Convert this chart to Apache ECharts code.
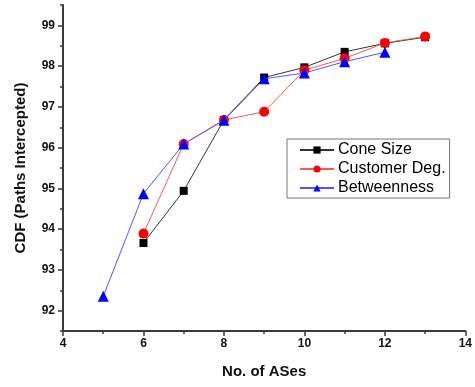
<!DOCTYPE html>
<html>
<head>
<meta charset="utf-8">
<script src="https://cdn.jsdelivr.net/npm/echarts@6/dist/echarts.min.js"></script>
<style>
  html, body { margin: 0; padding: 0; background: #fff; }
  #chart { width: 475px; height: 387px; }
</style>
</head>
<body>
<div id="chart"></div>
<script>
// Number of ASes on the x axis
const asCounts = [5, 6, 7, 8, 9, 10, 11, 12, 13];

// CDF of intercepted paths (%) for each ranking strategy
const coneSize     = [null, 93.66, 94.94, 96.68, 97.72, 97.97, 98.35, 98.56, 98.71];
const customerDeg  = [null, 93.89, 96.09, 96.68, 96.88, 97.90, 98.19, 98.57, 98.73];
const betweenness  = [92.35, 94.87, 96.09, 96.67, 97.69, 97.83, 98.11, 98.34, null];

const seriesNames = ['Cone Size', 'Customer Deg.', 'Betweenness'];

// Tick positions for the value axis
const yMajorTicks = [92, 93, 94, 95, 96, 97, 98, 99];
const yMinorTicks = [91.5, 92.5, 93.5, 94.5, 95.5, 96.5, 97.5, 98.5, 99.5];

const xAxisTitle = 'No. of ASes';
const yAxisTitle = 'CDF (Paths Intercepted)';

const font = 'Liberation Sans, Arial, sans-serif';
const axisColor = '#3a3a3a';

function pairs(vals) {
  return asCounts.map((x, i) => (vals[i] == null ? null : [x, vals[i]])).filter(p => p);
}

const chart = echarts.init(document.getElementById('chart'), null, { renderer: 'canvas' });

chart.setOption({
  animation: false,
  backgroundColor: '#ffffff',
  grid: { left: 63, right: 9, top: 5, bottom: 56 },
  legend: {
    orient: 'vertical',
    left: 287,
    top: 139,
    itemWidth: 34,
    itemHeight: 9,
    itemGap: 3,
    padding: [3, 4, 2, 12],
    borderColor: '#777',
    borderWidth: 1,
    textStyle: { fontFamily: font, fontSize: 16, color: '#000', padding: [0, 0, 0, -1] },
    data: seriesNames
  },
  xAxis: {
    type: 'value',
    min: 4,
    max: 14,
    interval: 2,
    name: xAxisTitle,
    nameLocation: 'middle',
    nameGap: 33,
    nameTextStyle: { fontFamily: font, fontSize: 15, fontWeight: 'bold', color: '#111' },
    axisLine: { show: true, lineStyle: { color: axisColor, width: 2 } },
    axisTick: { show: true, length: 5, lineStyle: { color: axisColor, width: 1.5 } },
    minorTick: { show: true, splitNumber: 2, length: 3, lineStyle: { color: axisColor, width: 1.5 } },
    axisLabel: { fontFamily: font, fontSize: 12, fontWeight: 'bold', color: '#111', margin: 7 },
    splitLine: { show: false }
  },
  yAxis: [
    {
      type: 'value',
      min: 91.5,
      max: 99.5,
      interval: 0.5,
      name: yAxisTitle,
      nameLocation: 'middle',
      nameGap: 35,
      nameRotate: 90,
      nameTextStyle: { fontFamily: font, fontSize: 15, fontWeight: 'bold', color: '#111' },
      axisLine: { show: true, lineStyle: { color: axisColor, width: 2 } },
      axisTick: { show: true, length: 5, customValues: yMajorTicks, lineStyle: { color: axisColor, width: 1.5 } },
      axisLabel: { fontFamily: font, fontSize: 12, fontWeight: 'bold', color: '#111', margin: 8, customValues: yMajorTicks },
      splitLine: { show: false }
    },
    {
      type: 'value',
      min: 91.5,
      max: 99.5,
      interval: 0.5,
      position: 'left',
      axisLine: { show: false },
      axisTick: { show: true, length: 3, customValues: yMinorTicks, lineStyle: { color: axisColor, width: 1.5 } },
      axisLabel: { show: false },
      splitLine: { show: false }
    }
  ],
  series: [
    {
      name: seriesNames[0],
      type: 'line',
      data: pairs(coneSize),
      symbol: 'rect',
      symbolSize: 8,
      itemStyle: { color: '#000' },
      lineStyle: { color: '#333', width: 1 },
      z: 2
    },
    {
      name: seriesNames[1],
      type: 'line',
      data: pairs(customerDeg),
      symbol: 'circle',
      symbolSize: 10,
      itemStyle: { color: '#ff0000' },
      lineStyle: { color: '#ff5555', width: 1 },
      z: 3
    },
    {
      name: seriesNames[2],
      type: 'line',
      data: pairs(betweenness),
      symbol: 'triangle',
      symbolSize: 11,
      itemStyle: { color: '#0000ff' },
      lineStyle: { color: '#5555ff', width: 1 },
      z: 4
    }
  ]
});
</script>
</body>
</html>
